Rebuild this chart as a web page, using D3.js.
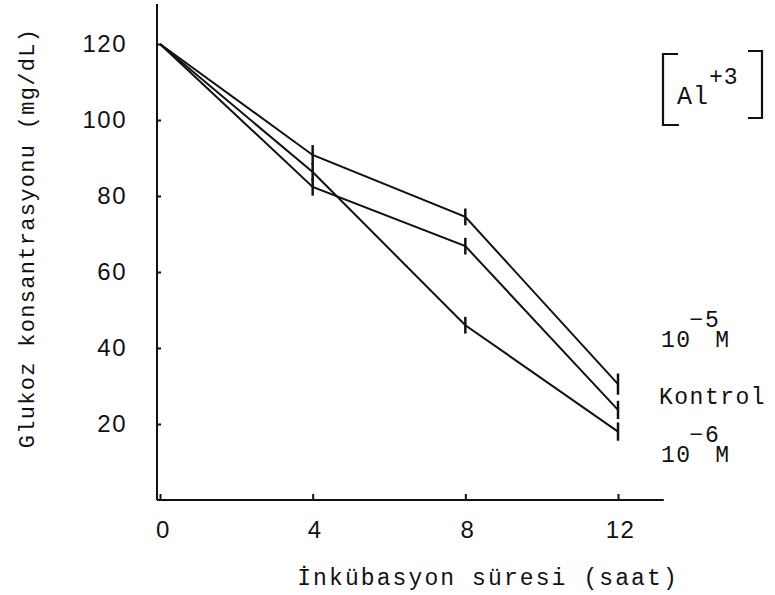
<!DOCTYPE html>
<html>
<head>
<meta charset="utf-8">
<script src="https://cdn.jsdelivr.net/npm/d3@7"></script>
<style>
  body { margin: 0; background: #fff; }
  .mono { font-family: "Liberation Mono", "Courier New", monospace; fill: #111; }
  .tick text { font-family: "Liberation Sans", Arial, sans-serif; font-size: 24px; fill: #111; letter-spacing: 1.5px; }
</style>
</head>
<body>
<div id="chart"></div>
<script>
// saat (hours)
const hours = [0, 4, 8, 12];
// glucose, mg/dL
const seriesNames = ["10-5 M", "Kontrol", "10-6 M"];
const alHigh = [120, 90.8, 74.5, 30.5];
const kontrol = [120, 82.4, 66.8, 23.7];
const alLow = [120, 86.3, 46, 18];
const errHigh = [0, 2.6, 2.2, 2.8];
const errKontrol = [0, 2.3, 2.2, 2.4];
const errLow = [0, 2.4, 2.2, 2.4];
const yTicks = [20, 40, 60, 80, 100, 120];
const xTicks = [0, 4, 8, 12];

const width = 775, height = 595;

const svg = d3.select("#chart").append("svg")
  .attr("width", width)
  .attr("height", height);

const x = d3.scaleLinear().domain([0, 12]).range([160, 618]);
const y = d3.scaleLinear().domain([0, 120]).range([500, 44]);

// eksen çizgileri
svg.append("line")
  .attr("x1", 157).attr("x2", 157)
  .attr("y1", y(0)).attr("y2", y(130.5))
  .attr("stroke", "#111").attr("stroke-width", 2);
svg.append("line")
  .attr("x1", 157).attr("x2", x(13.2))
  .attr("y1", y(0)).attr("y2", y(0))
  .attr("stroke", "#111").attr("stroke-width", 2);

const yAxis = svg.append("g")
  .attr("transform", "translate(157,0)")
  .call(d3.axisLeft(y).tickValues(yTicks).tickSize(-4).tickPadding(30));
yAxis.select(".domain").remove();
yAxis.selectAll(".tick line").attr("stroke", "#111").attr("stroke-width", 2);

const xAxis = svg.append("g")
  .attr("transform", `translate(0,${y(0)})`)
  .call(d3.axisBottom(x).tickValues(xTicks).tickSize(-6).tickPadding(21));
xAxis.select(".domain").remove();
xAxis.selectAll(".tick line").attr("stroke", "#111").attr("stroke-width", 2);
xAxis.selectAll(".tick text").attr("dx", (d) => (d === 0 ? 3 : 2));

// seriler
const series = [
  { name: seriesNames[0], values: alHigh, err: errHigh },
  { name: seriesNames[1], values: kontrol, err: errKontrol },
  { name: seriesNames[2], values: alLow, err: errLow }
];

const line = d3.line()
  .x((d) => x(d[0]))
  .y((d) => y(d[1]));

series.forEach((s) => {
  const pts = hours.map((h, i) => [h, s.values[i], s.err[i]]);
  svg.append("path")
    .datum(pts)
    .attr("d", line)
    .attr("fill", "none")
    .attr("stroke", "#111")
    .attr("stroke-width", 2);

  svg.selectAll(null)
    .data(pts.filter((p) => p[2] > 0))
    .enter()
    .append("line")
    .attr("x1", (d) => x(d[0])).attr("x2", (d) => x(d[0]))
    .attr("y1", (d) => y(d[1] + d[2])).attr("y2", (d) => y(d[1] - d[2]))
    .attr("stroke", "#111")
    .attr("stroke-width", 2.5);
});

// eksen başlıkları
svg.append("text")
  .attr("class", "mono")
  .attr("transform", "translate(34,238) rotate(-90)")
  .attr("text-anchor", "middle")
  .attr("font-size", 22)
  .attr("letter-spacing", 1.3)
  .text("Glukoz konsantrasyonu (mg/dL)");

svg.append("text")
  .attr("class", "mono")
  .attr("x", 488).attr("y", 585)
  .attr("text-anchor", "middle")
  .attr("font-size", 23)
  .attr("letter-spacing", 2.1)
  .text("İnkübasyon süresi (saat)");

// seri etiketleri
function powerLabel(yPos, exp) {
  const t = svg.append("text")
    .attr("class", "mono")
    .attr("x", 661).attr("y", yPos)
    .attr("font-size", 23)
    .attr("letter-spacing", 1.5);
  t.append("tspan").text("10");
  t.append("tspan").attr("dy", -20).attr("dx", -2).text("−" + exp);
  t.append("tspan").attr("dy", 20).attr("dx", -5).text("M");
}
powerLabel(347, 5);
svg.append("text")
  .attr("class", "mono")
  .attr("x", 659).attr("y", 404)
  .attr("font-size", 23)
  .attr("letter-spacing", 1.5)
  .text("Kontrol");
powerLabel(462, 6);

// [Al+3]
svg.append("path")
  .attr("d", "M678,54 L663,54 L663,125 L679,125")
  .attr("fill", "none").attr("stroke", "#111").attr("stroke-width", 2.2);
svg.append("path")
  .attr("d", "M748,51 L762,51 L762,118 L748,118")
  .attr("fill", "none").attr("stroke", "#111").attr("stroke-width", 2.2);
const al = svg.append("text")
  .attr("class", "mono")
  .attr("x", 677).attr("y", 104)
  .attr("font-size", 25)
  .attr("letter-spacing", 1);
al.append("tspan").text("Al");
al.append("tspan").attr("dy", -20).attr("font-size", 23).text("+3");
</script>
</body>
</html>
